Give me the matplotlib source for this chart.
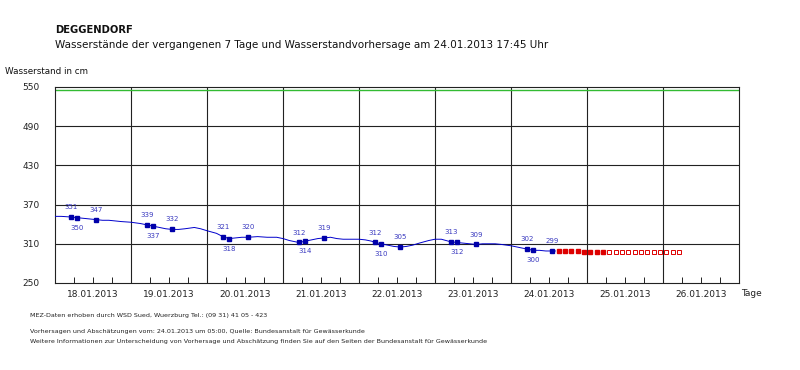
import numpy as np
import matplotlib
matplotlib.use("Agg")
import matplotlib.pyplot as plt

# Stunden ab 18.01.2013 00:00
tage = ["18.01.2013", "19.01.2013", "20.01.2013", "21.01.2013", "22.01.2013",
        "23.01.2013", "24.01.2013", "25.01.2013", "26.01.2013"]

# gemessener Wasserstand (Ganglinie)
mess_stunden = [0, 2, 5, 7, 9, 11, 13, 15, 17, 19, 21, 24, 27, 29, 31, 33, 35, 37, 39, 41,
                44, 46, 48, 51, 53, 55, 57, 59, 61, 64, 67, 70, 72, 74, 77, 79, 81, 83, 85,
                87, 89, 91, 94, 96, 98, 100, 101, 103, 105, 107, 109, 111, 113, 115, 118,
                120, 122, 125, 127, 129, 131, 133, 135, 137, 139, 141, 144, 147, 149, 151,
                153, 155, 157, 158]
mess_werte = [352, 352, 351, 350, 349, 348, 347, 346, 346, 345, 344, 343, 341, 339, 337, 335,
              333, 332, 332, 333, 335, 333, 330, 326, 321, 318, 319, 320, 320, 321, 320, 320,
              318, 315, 312, 314, 316, 318, 319, 320, 318, 317, 317, 317, 316, 314, 312, 310,
              308, 306, 305, 306, 308, 311, 315, 317, 317, 313, 312, 311, 310, 309, 310, 310,
              310, 309, 307, 304, 302, 300, 300, 299, 299, 299]

# beschriftete Messpunkte
punkt_stunden = [5, 7, 13, 29, 31, 37, 53, 55, 61, 77, 79, 85, 101, 103, 109, 125, 127, 133,
                 149, 151, 157]
punkt_werte = [351, 350, 347, 339, 337, 332, 321, 318, 320, 312, 314, 319, 312, 310, 305,
               313, 312, 309, 302, 300, 299]

# Vorhersage (gefuellt) und Abschaetzung (hohl)
vorh_stunden = [159, 161, 163, 165, 167, 169, 171, 173]
vorh_werte = [299, 299, 299, 299, 298, 298, 298, 298]
absch_stunden = [175, 177, 179, 181, 183, 185, 187, 189, 191, 193, 195, 197]
absch_werte = [298, 298, 297, 297, 297, 297, 297, 297, 297, 297, 297, 297]

grenzwert = 545

W, H = 800, 370


def px(x, y):
    return x / W, 1 - y / H


fig = plt.figure(figsize=(8, 3.7), dpi=100)
ax = fig.add_axes([55 / W, 1 - 283 / H, 684 / W, 196 / H])

ax.set_xlim(0, 216)
ax.set_ylim(250, 550)

for x in range(24, 216, 24):
    ax.axvline(x, color="#222222", lw=0.8, zorder=1)
for y in [310, 370, 430, 490]:
    ax.axhline(y, color="#222222", lw=0.8, zorder=1)
ax.axhline(grenzwert, color="#33bb33", lw=1.0, zorder=2)

ax.plot(mess_stunden, mess_werte, color="#0000cc", lw=0.7, zorder=3)
ax.plot(punkt_stunden, punkt_werte, "s", color="#0000aa", ms=3.4, zorder=4)
ax.plot(vorh_stunden, vorh_werte, "s", color="#dd0000", ms=3.5, zorder=4)
ax.plot(absch_stunden, absch_werte, "s", mfc="white", mec="#dd0000", mew=0.7, ms=3.5, zorder=4)

for i, (s, v) in enumerate(zip(punkt_stunden, punkt_werte)):
    oben = (i % 3) != 1
    ax.annotate(str(v), (s, v), xytext=(0, 5 if oben else -5), textcoords="offset points",
                ha="center", va="bottom" if oben else "top", fontsize=5, color="#3a3ac0")

ax.set_yticks(range(250, 551, 60))
ax.tick_params(axis="y", length=0, pad=11, labelsize=6.5, labelcolor="#222222")

xt = list(range(6, 216, 6))
ax.set_xticks(xt)
ax.set_xticklabels([tage[t // 24] if t % 24 == 12 else "" for t in xt])
ax.tick_params(axis="x", direction="in", length=4, width=0.7, pad=5, labelsize=6.5,
               labelcolor="#222222", color="#222222")

for sp in ax.spines.values():
    sp.set_color("#222222")
    sp.set_linewidth(0.8)

fig.text(*px(55, 30), "DEGGENDORF", fontsize=7.2, fontweight="bold", va="center", color="#111111")
fig.text(*px(55, 45), "Wasserstände der vergangenen 7 Tage und Wasserstandvorhersage am 24.01.2013 17:45 Uhr",
         fontsize=7.5, va="center", color="#111111")
fig.text(*px(5, 71), "Wasserstand in cm", fontsize=6.3, va="center", color="#111111")
fig.text(*px(741, 294), "Tage", fontsize=6.5, va="center", color="#222222")

fig.text(*px(30, 316), "MEZ-Daten erhoben durch WSD Sued, Wuerzburg Tel.: (09 31) 41 05 - 423",
         fontsize=4.58, va="center", color="#222222")
fig.text(*px(30, 332), "Vorhersagen und Abschätzungen vom: 24.01.2013 um 05:00, Quelle: Bundesanstalt für Gewässerkunde",
         fontsize=4.58, va="center", color="#222222")
fig.text(*px(30, 341), "Weitere Informationen zur Unterscheidung von Vorhersage und Abschätzung finden Sie auf den Seiten der Bundesanstalt für Gewässerkunde",
         fontsize=4.58, va="center", color="#222222")

fig.savefig("out.png", dpi=100, facecolor="white")
